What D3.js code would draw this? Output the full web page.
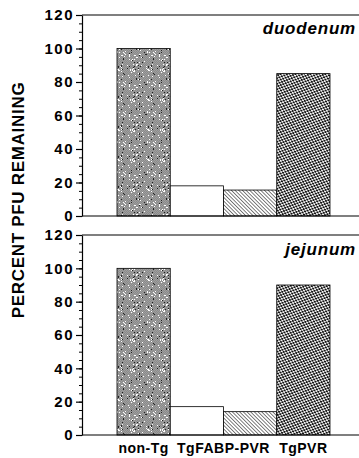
<!DOCTYPE html>
<html>
<head>
<meta charset="utf-8">
<script src="https://cdn.jsdelivr.net/npm/d3@7"></script>
<style>
  body { margin: 0; background: #fff; }
  svg { display: block; font-family: "Liberation Sans", Arial, sans-serif; }
</style>
</head>
<body>
<svg id="chart" width="359" height="458"></svg>
<script>
// bars drawn per panel (the two middle bars share one label)
const bars = ["non-Tg", "TgFABP-PVR open", "TgFABP-PVR hatched", "TgPVR"];
const duodenum = [100, 18, 15.5, 85];
const jejunum = [100, 17, 14, 90];
const panels = ["duodenum", "jejunum"];
const panelValues = [duodenum, jejunum];
const xLabels = ["non-Tg", "TgFABP-PVR", "TgPVR"];
const xLabelBars = [[0], [1, 2], [3]];
const yTicks = [0, 20, 40, 60, 80, 100, 120];
const yMinor = d3.range(0, 121, 5);

const svg = d3.select('#chart'),
  axisX = 82, rightEdge = 359;

const x = d3.scaleBand().domain(bars).range([117, 330]).padding(0);

// patterns
const defs = svg.append('defs');

// grey pixel checker with a few light/dark specks (scanned look)
const tile = 30;
const grey = defs.append('pattern').attr('id', 'grey')
  .attr('patternUnits', 'userSpaceOnUse').attr('width', tile).attr('height', tile);
grey.append('rect').attr('width', tile).attr('height', tile).attr('fill', '#8a8a8a');
const specks = [];
for (let i = 0; i < tile; i++) {
  for (let j = 0; j < tile; j++) {
    const h = (((i + 7) * 2654435761) ^ ((j + 3) * 40503)) >>> 0;
    const v = h % 29;
    if ((i + j) % 2 === 0) specks.push({x: i, y: j, c: '#9e9e9e'});
    if (v === 0 || v === 13) specks.push({x: i, y: j, c: '#ffffff'});
    else if (v === 5) specks.push({x: i, y: j, c: '#222222'});
  }
}
grey.selectAll('rect.s').data(specks).enter().append('rect')
  .attr('class', 's')
  .attr('x', function (d) { return d.x; }).attr('y', function (d) { return d.y; })
  .attr('width', 1).attr('height', 1)
  .attr('fill', function (d) { return d.c; });

const hatch = defs.append('pattern').attr('id', 'hatch')
  .attr('patternUnits', 'userSpaceOnUse').attr('width', 2.6).attr('height', 2.6)
  .attr('patternTransform', 'rotate(-45)');
hatch.append('rect').attr('width', 2.6).attr('height', 2.6).attr('fill', '#fff');
hatch.append('line').attr('x1', 0).attr('y1', 0).attr('x2', 0).attr('y2', 2.6)
  .attr('stroke', '#000').attr('stroke-width', 1);

const dots = defs.append('pattern').attr('id', 'dots')
  .attr('patternUnits', 'userSpaceOnUse').attr('width', 4).attr('height', 3.4)
  .attr('patternTransform', 'rotate(20)');
dots.append('rect').attr('width', 4).attr('height', 3.4).attr('fill', '#fff');
dots.append('circle').attr('cx', 1).attr('cy', 0.85).attr('r', 1.05).attr('fill', '#000');
dots.append('circle').attr('cx', 3).attr('cy', 2.55).attr('r', 1.05).attr('fill', '#000');

const fills = ['url(#grey)', '#fff', 'url(#hatch)', 'url(#dots)'];

const panelRanges = [[216, 15], [435, 235]];
const labelY = [34, 255];

panels.forEach(function (name, p) {
  const vals = panelValues[p];
  const y = d3.scaleLinear().domain([0, 120]).range(panelRanges[p]);
  const g = svg.append('g');

  g.selectAll('.bar')
    .data(vals)
    .enter().append('rect')
    .attr('class', 'bar')
    .attr('x', function (d, i) { return x(bars[i]); })
    .attr('y', function (d) { return y(d); })
    .attr('width', x.bandwidth())
    .attr('height', function (d) { return y(0) - y(d); })
    .attr('fill', function (d, i) { return fills[i]; })
    .attr('stroke', '#000')
    .attr('stroke-width', 0.8);

  // minor ticks
  g.append('g')
    .attr('transform', 'translate(' + axisX + ',0)')
    .call(d3.axisLeft(y).tickValues(yMinor).tickSize(3).tickFormat(''))
    .call(function (a) { a.select('.domain').remove(); a.selectAll('line').attr('stroke-width', 1); });

  // major ticks
  g.append('g')
    .attr('transform', 'translate(' + axisX + ',0)')
    .call(d3.axisLeft(y).tickValues(yTicks).tickSize(6).tickPadding(2).tickSizeOuter(0))
    .call(function (a) {
      a.select('.domain').attr('stroke-width', 1.2);
      a.selectAll('line').attr('stroke-width', 1.2);
      a.selectAll('text')
        .attr('font-size', 15).attr('font-weight', 'bold')
        .attr('letter-spacing', 1.5).attr('fill', '#000');
    });

  // frame lines at 0 and 120
  g.selectAll('.hline')
    .data([0, 120])
    .enter().append('line')
    .attr('x1', axisX).attr('x2', rightEdge)
    .attr('y1', function (d) { return y(d); })
    .attr('y2', function (d) { return y(d); })
    .attr('stroke', '#000').attr('stroke-width', 1.2);

  g.append('text')
    .attr('x', 356).attr('y', labelY[p])
    .attr('text-anchor', 'end')
    .attr('font-size', 17).attr('font-weight', 'bold').attr('font-style', 'italic')
    .attr('letter-spacing', 0.8)
    .text(name);
});

// category labels
svg.selectAll('.xlab')
  .data(xLabels)
  .enter().append('text')
  .attr('class', 'xlab')
  .attr('x', function (d, i) {
    return d3.mean(xLabelBars[i], function (b) { return x(bars[b]) + x.bandwidth() / 2; });
  })
  .attr('y', 453)
  .attr('text-anchor', 'middle')
  .attr('font-size', 14).attr('font-weight', 'bold')
  .attr('letter-spacing', 0.5)
  .text(function (d) { return d; });

svg.append('text')
  .attr('transform', 'translate(24,200) rotate(-90)')
  .attr('text-anchor', 'middle')
  .attr('font-size', 17).attr('font-weight', 'bold')
  .attr('letter-spacing', 0.7)
  .text('PERCENT PFU REMAINING');
</script>
</body>
</html>
